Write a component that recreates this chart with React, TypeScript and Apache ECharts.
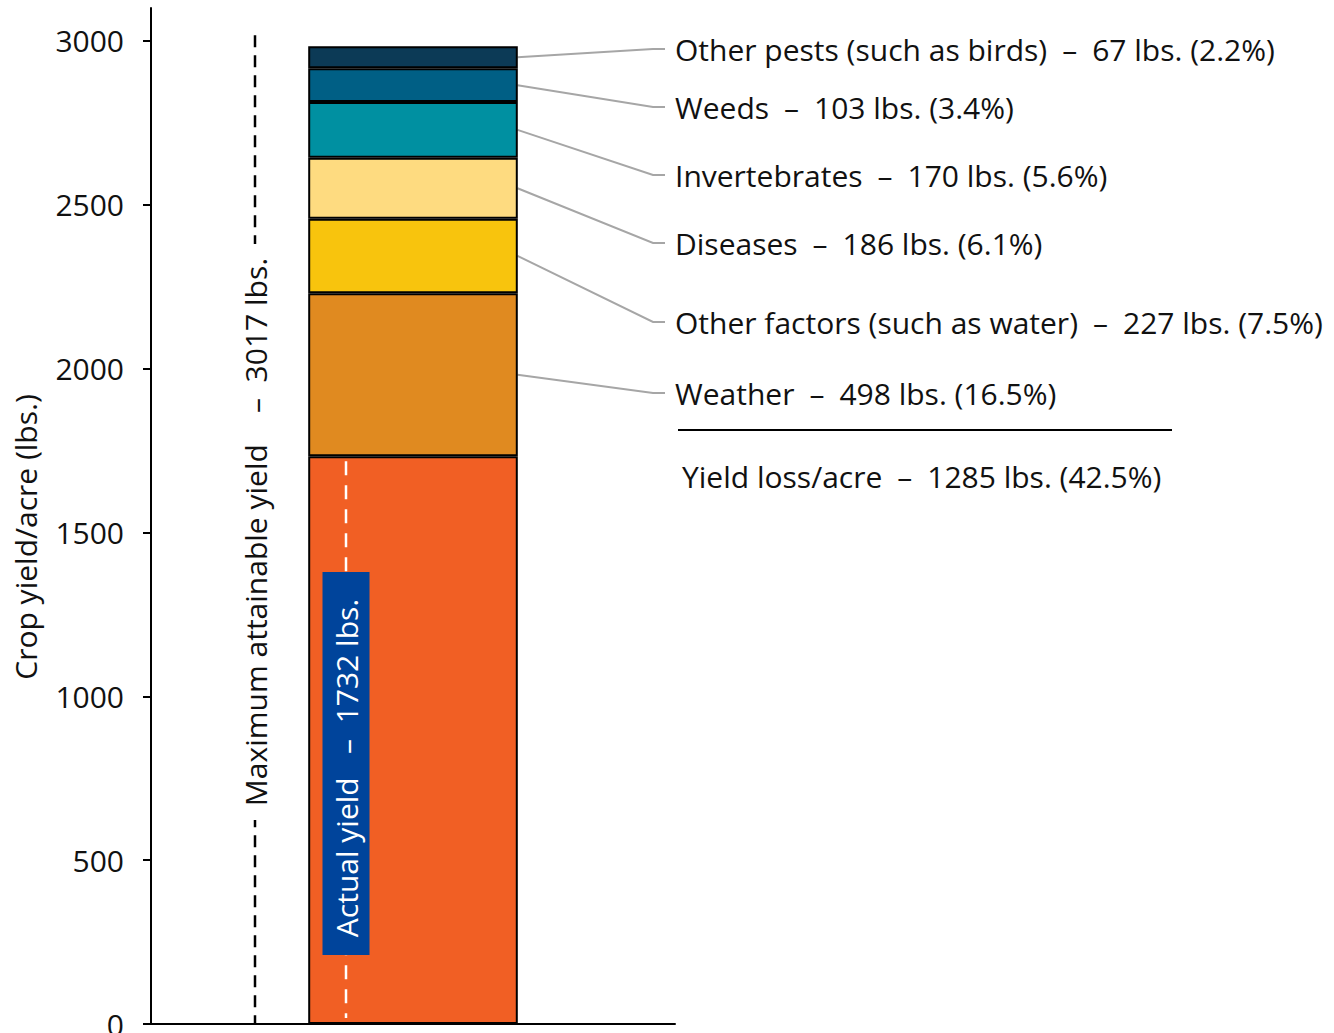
import React, { useEffect, useRef } from "react";
import * as echarts from "echarts";

// One stacked column: actual yield at the bottom, each loss factor stacked above it.
const categories = ["Crop"];
const segmentNames = [
  "Actual yield",
  "Weather",
  "Other factors (such as water)",
  "Diseases",
  "Invertebrates",
  "Weeds",
  "Other pests (such as birds)",
];
const segmentValues = [1732, 498, 227, 186, 170, 103, 67];
const segmentColors = ["#F15F24", "#E08A20", "#F8C40D", "#FEDB80", "#0090A1", "#005F85", "#0C3A56"];
const lossPercents = [0, 16.5, 7.5, 6.1, 5.6, 3.4, 2.2];

const maxAttainable = 3017;
const totalLoss = 1285;
const totalLossPercent = 42.5;

const yTicks = [0, 500, 1000, 1500, 2000, 2500, 3000];

// Vertical placement of the loss labels on the right (index matches segment order)
const lossLabelY = [0, 393, 322, 243, 175, 107, 49];

const FONT = '"Open Sans", "Noto Sans", sans-serif';
const FS = 30;
const DASH = "\u2002\u2013\u2002";

export default function App() {
  const ref = useRef<HTMLDivElement>(null);

  useEffect(() => {
    if (!ref.current) return;
    const chart = echarts.init(ref.current, null, { renderer: "svg" });

    const series = segmentNames.map((name, i) => ({
      name,
      type: "bar",
      stack: "yield",
      barWidth: "40%",
      data: [segmentValues[i]],
      itemStyle: { color: segmentColors[i], borderColor: "#000", borderWidth: 2 },
      emphasis: { disabled: true },
    }));

    chart.setOption({
      animation: false,
      grid: { left: 151, width: 524, top: 8, height: 1016, containLabel: false, outerBoundsMode: "none" },
      xAxis: {
        type: "category",
        data: categories,
        axisLine: { lineStyle: { color: "#000", width: 2 } },
        axisTick: { show: false },
        axisLabel: { show: false },
      },
      yAxis: {
        type: "value",
        min: 0,
        max: 3100,
        interval: 500,
        splitLine: { show: false },
        axisLine: { show: true, lineStyle: { color: "#000", width: 2 } },
        axisTick: { show: true, length: 8, lineStyle: { color: "#000", width: 2 }, customValues: yTicks },
        axisLabel: {
          customValues: yTicks,
          formatter: (v: number) => String(v),
          margin: 27,
          color: "#111",
          fontSize: FS,
          fontFamily: FONT,
        },
      },
      series,
    });

    const px = (v: number) => chart.convertToPixel({ xAxisIndex: 0, yAxisIndex: 0 }, [0, v]) as number[];
    const base = px(0);
    const barCenterX = base[0];
    const barHalf = 209 / 2;
    const barRight = barCenterX + barHalf;

    const graphics: any[] = [];

    // Axis title
    graphics.push({
      type: "text",
      x: 25,
      y: 537,
      rotation: Math.PI / 2,
      style: {
        text: "Crop yield/acre (lbs.)",
        font: `${FS}px ${FONT}`,
        fill: "#111",
        align: "center",
        verticalAlign: "middle",
      },
    });

    // Maximum attainable yield: dashed marker to the left of the column
    const topY = px(maxAttainable)[1];
    const markerX = 255;
    graphics.push({
      type: "line",
      shape: { x1: markerX, y1: topY, x2: markerX, y2: base[1] },
      style: { stroke: "#000", lineWidth: 2.5, lineDash: [12, 8] },
    });
    graphics.push({
      type: "text",
      x: markerX,
      y: 532,
      rotation: Math.PI / 2,
      style: {
        text: `Maximum attainable yield    \u2013  ${maxAttainable} lbs.`,
        font: `${FS}px ${FONT}`,
        fill: "#111",
        align: "center",
        verticalAlign: "middle",
        backgroundColor: "#fff",
        padding: [0, 14],
      },
    });

    // Actual yield marker inside the bottom segment
    const actualTop = px(segmentValues[0])[1];
    const innerX = barCenterX - 67;
    graphics.push({
      type: "line",
      z: 100,
      shape: { x1: innerX, y1: actualTop + 5, x2: innerX, y2: base[1] - 6 },
      style: { stroke: "#fff", lineWidth: 2.5, lineDash: [14, 10] },
    });
    graphics.push({
      type: "rect",
      z: 101,
      shape: { x: innerX - 23.5, y: 572, width: 47, height: 383 },
      style: { fill: "#00449B" },
    });
    graphics.push({
      type: "text",
      z: 102,
      x: innerX,
      y: 768,
      rotation: Math.PI / 2,
      style: {
        text: `Actual yield   \u2013  ${segmentValues[0]} lbs.`,
        font: `${FS}px ${FONT}`,
        fill: "#fff",
        align: "center",
        verticalAlign: "middle",
      },
    });

    // Loss factors: leader lines and labels
    let cum = segmentValues[0];
    for (let i = 1; i < segmentValues.length; i++) {
      const mid = cum + segmentValues[i] / 2;
      cum += segmentValues[i];
      const ay = px(mid)[1];
      const ly = lossLabelY[i];
      graphics.push({
        type: "polyline",
        shape: { points: [[barRight, ay], [653, ly], [665, ly]] },
        style: { stroke: "#A6A6A6", lineWidth: 2, fill: null },
      });
      graphics.push({
        type: "text",
        x: 675,
        y: ly,
        style: {
          text: `${segmentNames[i]}${DASH}${segmentValues[i]} lbs. (${lossPercents[i].toFixed(1)}%)`,
          font: `${FS}px ${FONT}`,
          fill: "#111",
          align: "left",
          verticalAlign: "middle",
        },
      });
    }

    // Total loss summary
    graphics.push({
      type: "line",
      shape: { x1: 678, y1: 430, x2: 1172, y2: 430 },
      style: { stroke: "#000", lineWidth: 2 },
    });
    graphics.push({
      type: "text",
      x: 682,
      y: 476,
      style: {
        text: `Yield loss/acre${DASH}${totalLoss} lbs. (${totalLossPercent.toFixed(1)}%)`,
        font: `${FS}px ${FONT}`,
        fill: "#111",
        align: "left",
        verticalAlign: "middle",
      },
    });

    chart.setOption({ graphic: graphics });

    return () => chart.dispose();
  }, []);

  return <div ref={ref} style={{ width: 1334, height: 1033, position: "absolute", left: 0, top: 0 }} />;
}
